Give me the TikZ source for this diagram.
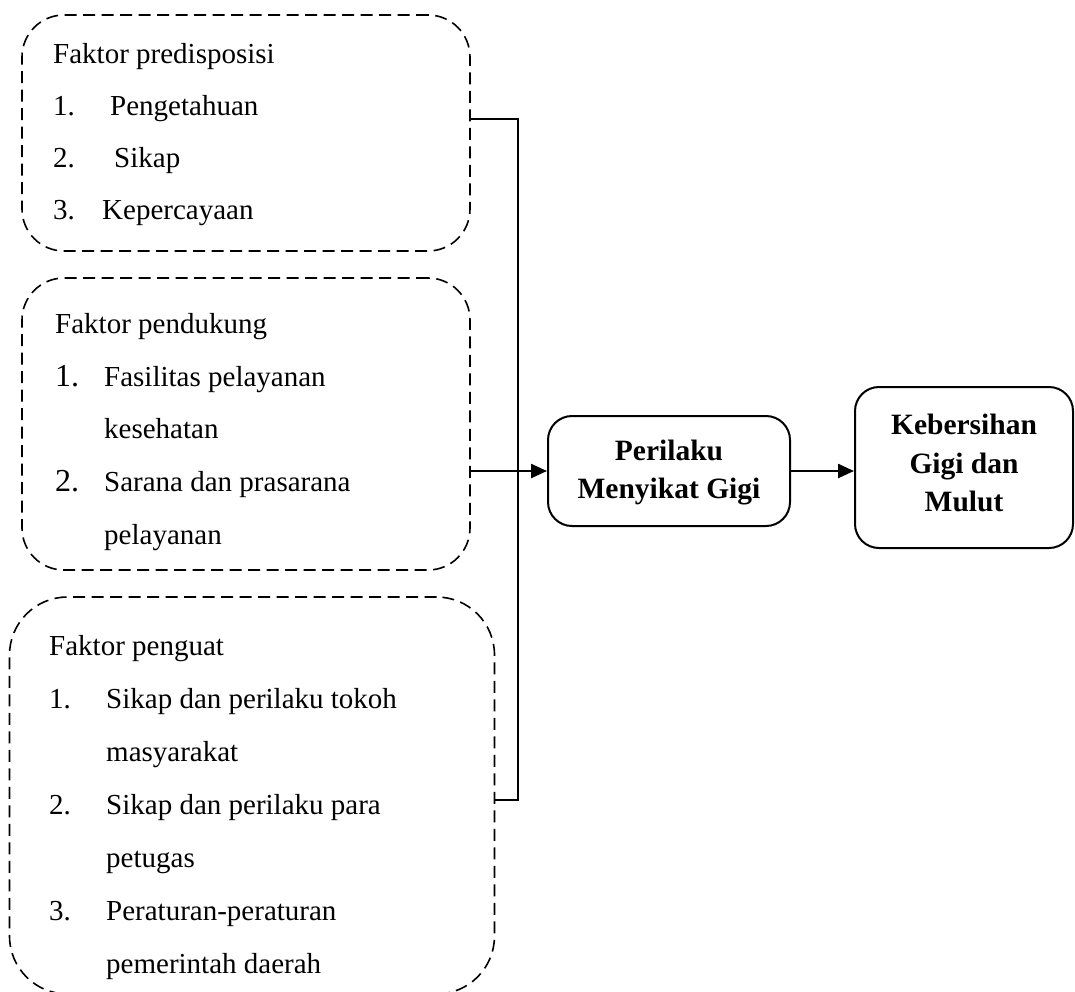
\documentclass[tikz,border=0pt]{standalone}
\usepackage{fontspec}
\setmainfont{Liberation Serif}
\usetikzlibrary{arrows.meta}
\begin{document}
\begin{tikzpicture}[x=1pt,y=-1pt,
  dbox/.style={draw, dash pattern=on 12pt off 6.5pt, line width=1.6pt, inner sep=0pt},
  sbox/.style={draw, line width=2pt, rounded corners=24pt, inner sep=0pt, align=center, font=\fontsize{29.5}{38.5}\selectfont\bfseries},
  txt/.style={inner sep=0pt, anchor=base west, font=\fontsize{29}{34}\selectfont},
  num/.style={inner sep=0pt, anchor=base west, font=\fontsize{29}{34}\selectfont},
  bignum/.style={inner sep=0pt, anchor=base west, font=\fontsize{32}{34}\selectfont},
  conn/.style={line width=1.7pt},
  arr/.style={line width=2.4pt, -{Triangle[length=16pt,width=14pt]}}]
\useasboundingbox (0,0) rectangle (1075,991);
% dashed boxes
\node[dbox, rounded corners=42pt, minimum width=448pt, minimum height=236pt] (b1) at (246,133) {};
\node[dbox, rounded corners=42pt, minimum width=448pt, minimum height=292pt] (b2) at (246,424) {};
\node[dbox, rounded corners=58pt, minimum width=485pt, minimum height=397pt] (b3) at (252,795.5) {};
% box 1 text
\node[txt] (t10) at (53,63) {Faktor predisposisi};
\node[num] (n11) at (53,115) {1.};
\node[txt] (t11) at (110,115) {Pengetahuan};
\node[num] (n12) at (53,167) {2.};
\node[txt] (t12) at (114,167) {Sikap};
\node[num] (n13) at (53,219) {3.};
\node[txt] (t13) at (102,219) {Kepercayaan};
% box 2 text
\node[txt] (t20) at (55,333) {Faktor pendukung};
\node[bignum] (n21) at (55,386) {1.};
\node[txt] (t21) at (104,386) {Fasilitas pelayanan};
\node[txt] (t22) at (104,438) {kesehatan};
\node[bignum] (n22) at (55,491) {2.};
\node[txt] (t23) at (104,491) {Sarana dan prasarana};
\node[txt] (t24) at (104,544) {pelayanan};
% box 3 text
\node[txt] (t30) at (49,655) {Faktor penguat};
\node[num] (n31) at (49,708) {1.};
\node[txt] (t31) at (106,708) {Sikap dan perilaku tokoh};
\node[txt] (t32) at (106,761) {masyarakat};
\node[num] (n32) at (49,814) {2.};
\node[txt] (t33) at (106,814) {Sikap dan perilaku para};
\node[txt] (t34) at (106,867) {petugas};
\node[num] (n33) at (49,920) {3.};
\node[txt] (t35) at (106,920) {Peraturan-peraturan};
\node[txt] (t36) at (106,973) {pemerintah daerah};
% solid boxes
\node[sbox, minimum width=242pt, minimum height=110pt, text depth=3pt] (p) at (669,471) {Perilaku\\Menyikat Gigi};
\node[sbox, minimum width=218pt, minimum height=161pt, text depth=9pt] (k) at (964,467.5) {Kebersihan\\Gigi dan\\Mulut};
% connectors
\coordinate (j1) at (518,119);
\coordinate (j3) at (518,800);
\draw[conn] (b1.east |- j1) -- (j1) -- (j3) -- (b3.east |- j3);
\draw[arr] (b2.east |- p.west) -- (p.west);
\draw[arr] (p.east) -- (p.east -| k.west);
\end{tikzpicture}
\end{document}
